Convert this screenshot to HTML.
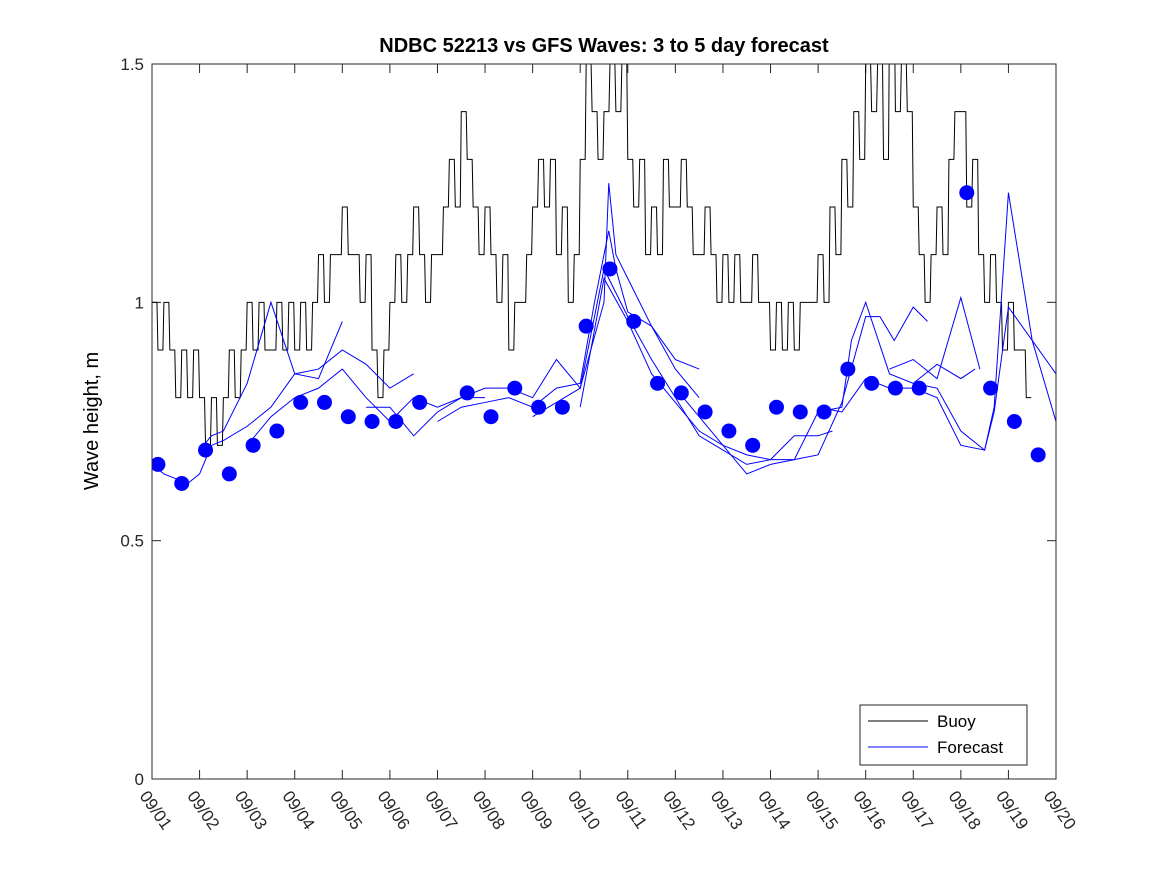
<!DOCTYPE html>
<html><head><meta charset="utf-8"><style>
html,body{margin:0;padding:0;background:#fff;}
svg text{font-family:"Liberation Sans",sans-serif;}
</style></head><body>
<svg id="chart" width="1167" height="875">
<rect width="1167" height="875" fill="#fff"/>
<defs><clipPath id="clip"><rect x="152" y="64" width="904" height="715"/></clipPath></defs>
<text x="604" y="52" font-size="20" font-weight="bold" text-anchor="middle">NDBC 52213 vs GFS Waves: 3 to 5 day forecast</text>
<text transform="translate(98,421) rotate(-90)" font-size="20" text-anchor="middle">Wave height, m</text>
<g id="axes"></g>
<g id="series" clip-path="url(#clip)"></g>
<rect x="152" y="64" width="904" height="715" fill="none" stroke="#262626" stroke-width="1"/>
<g>
<rect x="860" y="705" width="167" height="60" fill="#fff" stroke="#262626"/>
<line x1="868" y1="721" x2="928" y2="721" stroke="#000"/>
<text x="937" y="727" font-size="17">Buoy</text>
<line x1="868" y1="747" x2="928" y2="747" stroke="#0000ff"/>
<text x="937" y="753" font-size="17">Forecast</text>
</g>
</svg>
<script>
const xTickLabels=["09/01","09/02","09/03","09/04","09/05","09/06","09/07","09/08","09/09","09/10","09/11","09/12","09/13","09/14","09/15","09/16","09/17","09/18","09/19","09/20"];
const yTicks=[0,0.5,1,1.5];
const yTickLabels=["0","0.5","1","1.5"];
const buoyStepDays=0.125;
const buoyValues=[
1.0,0.9,1.0,0.9,0.8,0.9,0.8,0.9,
0.8,0.7,0.8,0.7,0.8,0.9,0.8,0.9,
1.0,0.9,1.0,0.9,0.9,1.0,0.9,1.0,
0.9,1.0,0.9,1.0,1.1,1.0,1.1,1.1,
1.2,1.1,1.1,1.0,1.1,0.9,0.8,0.9,
1.0,1.1,1.0,1.1,1.2,1.1,1.0,1.1,
1.1,1.2,1.3,1.2,1.4,1.3,1.2,1.1,
1.2,1.1,1.0,1.1,0.9,1.0,1.0,1.1,
1.2,1.3,1.2,1.3,1.1,1.2,1.0,1.1,
1.3,1.5,1.4,1.3,1.4,1.5,1.4,1.5,
1.3,1.2,1.3,1.1,1.2,1.1,1.3,1.2,
1.2,1.3,1.2,1.1,1.1,1.2,1.1,1.0,
1.1,1.0,1.1,1.0,1.0,1.1,1.0,1.0,
0.9,1.0,0.9,1.0,0.9,1.0,1.0,1.0,
1.1,1.0,1.2,1.1,1.3,1.2,1.4,1.3,
1.5,1.4,1.5,1.3,1.6,1.4,1.5,1.4,
1.2,1.1,1.0,1.1,1.2,1.1,1.3,1.4,
1.4,1.2,1.3,1.1,1.0,1.1,1.0,0.9,
1.0,0.9,0.9,0.8];
const dotDays=[0.125,0.625,1.125,1.625,2.125,2.625,3.125,3.625,4.125,4.625,5.125,5.625,6.625,7.125,7.625,8.125,8.625,9.125,9.625,10.125,10.625,11.125,11.625,12.125,12.625,13.125,13.625,14.125,14.625,15.125,15.625,16.125,17.125,17.625,18.125,18.625];
const dotValues=[0.66,0.62,0.69,0.64,0.70,0.73,0.79,0.79,0.76,0.75,0.75,0.79,0.81,0.76,0.82,0.78,0.78,0.95,1.07,0.96,0.83,0.81,0.77,0.73,0.70,0.78,0.77,0.77,0.86,0.83,0.82,0.82,1.23,0.82,0.75,0.68];
const fcDays1=[0,0.25,0.5,0.75,1,1.25,1.5,2,2.5,3,3.5,4,4.5,5,5.5];
const fcVals1=[0.66,0.64,0.63,0.62,0.64,0.70,0.71,0.74,0.78,0.85,0.86,0.90,0.87,0.82,0.85];
const fcDays2=[1,1.25,1.5,2,2.5,3,3.5,4];
const fcVals2=[0.69,0.72,0.73,0.83,1.0,0.85,0.84,0.96];
const fcDays3=[2,2.5,3,3.5,4,4.5,5,5.5,6,6.5,7];
const fcVals3=[0.70,0.76,0.80,0.82,0.86,0.80,0.75,0.80,0.78,0.80,0.80];
const fcDays4=[4.5,5,5.5,6,6.5,7,7.5,8,8.5,9,9.5,9.6,9.75,10,10.5,11,11.5];
const fcVals4=[0.78,0.78,0.72,0.77,0.80,0.82,0.82,0.80,0.88,0.82,1.0,1.25,1.1,1.05,0.95,0.86,0.80];
const fcDays5=[6,6.5,7,7.5,8,8.5,9,9.3,9.6,9.75,10,10.5,11,11.5];
const fcVals5=[0.75,0.78,0.79,0.80,0.78,0.82,0.83,1.0,1.15,1.07,0.98,0.95,0.88,0.86];
const fcDays6=[8,8.5,9,9.5,10,10.5,11,11.5,12,12.5,13,13.5,14,14.3];
const fcVals6=[0.76,0.79,0.82,1.07,0.97,0.88,0.80,0.72,0.69,0.66,0.67,0.72,0.72,0.73];
const fcDays7=[9,9.5,10,10.5,11,11.5,12,12.5,13,13.5,14,14.5,15,15.3,15.6,16,16.3];
const fcVals7=[0.78,1.05,0.96,0.85,0.79,0.73,0.70,0.64,0.66,0.67,0.68,0.79,0.97,0.97,0.92,0.99,0.96];
const fcDays8=[11,11.5,12,12.5,13,13.5,14,14.5,14.7,15,15.5,16,16.5,17,17.3];
const fcVals8=[0.82,0.76,0.70,0.68,0.67,0.67,0.77,0.78,0.92,1.0,0.85,0.83,0.87,0.84,0.86];
const fcDays9=[14,14.5,15,15.5,16,16.5,17,17.5,17.7,18,18.5,19,19.5,20];
const fcVals9=[0.78,0.77,0.84,0.82,0.82,0.80,0.70,0.69,0.77,0.99,0.92,0.75,0.69,0.62];
const fcDays10=[15.5,16,16.5,17,17.4];
const fcVals10=[0.86,0.88,0.84,1.01,0.86];
const fcDays11=[16,16.5,17,17.5,17.7,18,18.5,19,19.5,20];
const fcVals11=[0.83,0.82,0.73,0.69,0.78,1.23,0.92,0.85,0.78,0.71];

const X0=152,X1=1056,Y0=779,Y1=64;
const xs=d=>X0+(X1-X0)*d/19;
const ys=v=>Y0-(Y0-Y1)*v/1.5;
const NS="http://www.w3.org/2000/svg";
function mk(tag,attrs,parent){const e=document.createElementNS(NS,tag);for(const k in attrs)e.setAttribute(k,attrs[k]);parent.appendChild(e);return e;}
const axes=document.getElementById('axes'),series=document.getElementById('series');
xTickLabels.forEach((lab,i)=>{
  const x=xs(i);
  const t1=mk('line',{x1:x,y1:Y0,x2:x,y2:Y0-9,stroke:'#262626'},axes);
  
  
  mk('line',{x1:x,y1:Y1,x2:x,y2:Y1+9,stroke:'#262626'},axes);
  const t=mk('text',{transform:`translate(${x-13},${Y0+17}) rotate(55)`,'font-size':17,fill:'#262626'},axes);
  t.textContent=lab;
  
  
});
yTicks.forEach((v,i)=>{
  const y=ys(v);
  mk('line',{x1:X0,y1:y,x2:X0+9,y2:y,stroke:'#262626'},axes);
  mk('line',{x1:X1,y1:y,x2:X1-9,y2:y,stroke:'#262626'},axes);
  const t=mk('text',{x:X0-8,y:y+6,'font-size':17,'text-anchor':'end',fill:'#262626'},axes);
  t.textContent=yTickLabels[i];
  
  
});
let d='';
buoyValues.forEach((v,i)=>{const xa=xs(i*buoyStepDays),xb=xs((i+1)*buoyStepDays)-1,y=ys(v);d+=(i?'L':'M')+xa+','+y+'L'+xb+','+y;});
const bp=mk('path',{d:d,fill:'none',stroke:'#000','stroke-width':1},series);


const fcs=[[fcDays1,fcVals1],[fcDays2,fcVals2],[fcDays3,fcVals3],[fcDays4,fcVals4],[fcDays5,fcVals5],[fcDays6,fcVals6],[fcDays7,fcVals7],[fcDays8,fcVals8],[fcDays9,fcVals9],[fcDays10,fcVals10],[fcDays11,fcVals11]];
fcs.forEach(([ds,vs])=>{
  const p=mk('polyline',{points:ds.map((dd,i)=>xs(dd)+','+ys(vs[i])).join(' '),fill:'none',stroke:'#0000ff','stroke-width':1},series);
  
  
});
dotDays.forEach((dd,i)=>{
  const c=mk('circle',{cx:xs(dd),cy:ys(dotValues[i]),r:7.5,fill:'#0000ff'},series);
  
  
});
</script>
</body></html>
